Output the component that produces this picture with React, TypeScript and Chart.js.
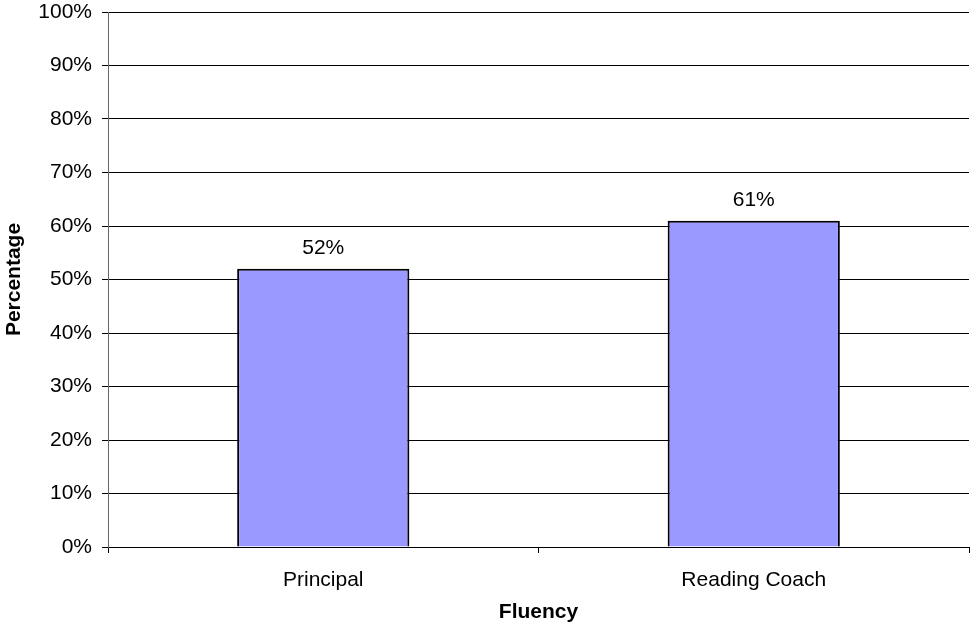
import React, { useEffect, useRef } from "react";
import { Chart, registerables } from "chart.js";

Chart.register(...registerables);

const categories = ["Principal", "Reading Coach"];
const values = [52, 61];
const yTicks = [0, 10, 20, 30, 40, 50, 60, 70, 80, 90, 100];

const FONT = '"Liberation Sans", Arial, Helvetica, sans-serif';
const SIZE = 21;

const valueLabels = {
  id: "valueLabels",
  afterDatasetsDraw(chart: any) {
    const ctx = chart.ctx;
    const meta = chart.getDatasetMeta(0);
    ctx.save();
    ctx.font = `${SIZE}px ${FONT}`;
    ctx.fillStyle = "#000";
    ctx.textAlign = "center";
    ctx.textBaseline = "alphabetic";
    meta.data.forEach((bar: any, i: number) => {
      ctx.fillText(`${values[i]}%`, bar.x, bar.y - 15);
    });
    ctx.restore();
  },
};

export default function App() {
  const ref = useRef<HTMLCanvasElement | null>(null);

  useEffect(() => {
    if (!ref.current) return;
    const chart = new Chart(ref.current, {
      type: "bar",
      data: {
        labels: categories,
        datasets: [
          {
            data: values,
            backgroundColor: "#9999FF",
            borderColor: "#000000",
            borderWidth: 2,
            barPercentage: 0.4,
            categoryPercentage: 1,
          },
        ],
      },
      options: {
        responsive: false,
        animation: false,
        layout: { padding: { top: 0, right: 3, left: 0, bottom: 0 } },
        plugins: {
          legend: { display: false },
          tooltip: { enabled: false },
        },
        scales: {
          x: {
            offset: true,
            grid: {
              offset: true,
              drawOnChartArea: false,
              drawTicks: true,
              tickLength: 6,
              color: "#000",
            },
            border: { color: "#000", width: 1 },
            ticks: {
              color: "#000",
              font: { family: FONT, size: SIZE },
              padding: 15,
            },
            title: {
              display: true,
              text: "Fluency",
              color: "#000",
              font: { family: FONT, size: SIZE, weight: "bold" },
              padding: { top: 0, bottom: 2 },
            },
            afterFit(scale: any) {
              scale.height = 80;
            },
          },
          y: {
            min: 0,
            max: 100,
            afterBuildTicks(scale: any) {
              scale.ticks = yTicks.map((v) => ({ value: v }));
            },
            grid: {
              color: "#000",
              lineWidth: 1,
              tickLength: 6,
            },
            border: { color: "#666", width: 1 },
            ticks: {
              color: "#000",
              font: { family: FONT, size: SIZE },
              padding: 10,
              callback: (v: any) => `${v}%`,
            },
            title: {
              display: true,
              text: "Percentage",
              color: "#000",
              font: { family: FONT, size: SIZE, weight: "bold" },
              padding: { top: 2, bottom: 0 },
            },
            afterFit(scale: any) {
              scale.width = 108;
              scale.paddingTop = 12;
              scale.paddingBottom = 0;
            },
          },
        },
      },
      plugins: [valueLabels],
    });
    return () => chart.destroy();
  }, []);

  return (
    <div style={{ position: "absolute", left: 0, top: 0, width: 972, height: 627, background: "#fff" }}>
      <canvas ref={ref} width={972} height={627} />
    </div>
  );
}
